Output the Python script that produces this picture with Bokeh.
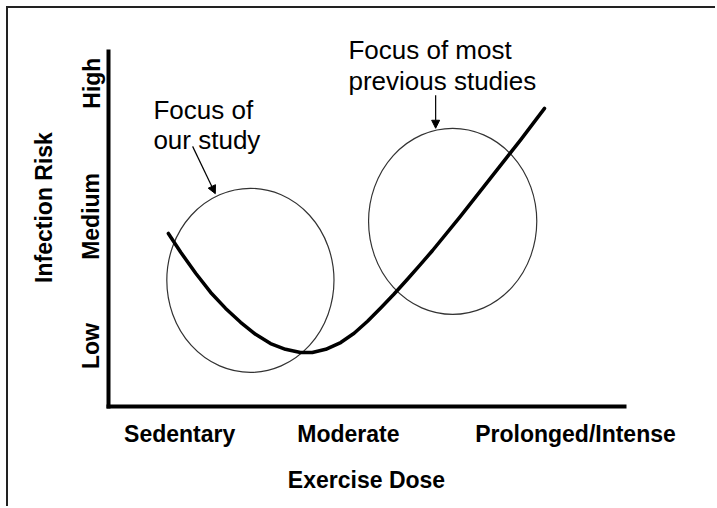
from bokeh.plotting import figure
from bokeh.models import Range1d, FixedTicker, Arrow, NormalHead, ColumnDataSource
from bokeh.core.properties import value
from bokeh.embed import file_html
from bokeh.resources import INLINE

# ---- data (data units: x 0..100 exercise dose, y 0..100 infection risk) ----
dose = [11.6, 14.0, 16.9, 19.8, 22.7, 25.6, 28.5, 31.4, 34.3, 37.2, 39.5,
        42.1, 45.0, 47.6, 50.2, 52.8, 55.3, 57.8, 60.3, 62.8, 68.2, 74.0, 79.8, 84.5]
risk = [48.7, 43.4, 37.5, 32.1, 27.6, 23.7, 20.3, 17.7, 16.1, 15.2, 15.2,
        16.1, 18.0, 20.6, 24.0, 27.8, 31.6, 35.6, 39.7, 43.9, 53.5, 64.2, 74.9, 83.9]

x_tick_pos = [13.8, 46.5, 90.5]
x_tick_labels = ["Sedentary", "Moderate", "Prolonged/Intense"]
y_tick_pos = [17.0, 53.5, 91.0]
y_tick_labels = ["Low", "Medium", "High"]

ellipse_x = [27.5, 66.7]
ellipse_y = [35.5, 52.1]
ellipse_w = [32.4, 32.6]
ellipse_h = [51.8, 52.4]

note_lines = ["Focus of", "our study", "Focus of most", "previous studies"]
note_x = [8.7, 8.7, 46.5, 46.5]
note_y = [83.4, 74.9, 100.3, 91.5]

arrow_x0 = [16.3, 63.4]
arrow_y0 = [73.2, 87.6]
arrow_x1 = [20.7, 63.4]
arrow_y1 = [59.9, 78.3]

FONT = "Liberation Sans"

p = figure(width=709, height=500, x_range=Range1d(0, 100), y_range=Range1d(0, 112),
           output_backend="svg", toolbar_location=None,
           min_border_left=100, min_border_right=93, min_border_top=0, min_border_bottom=102)
p.grid.visible = False
p.outline_line_color = None
p.background_fill_color = "white"
p.border_fill_color = "white"
p.styles = {"border-top": "2px solid #222", "border-left": "2px solid #222",
            "margin-top": "6px", "margin-left": "6px"}

for ax in (p.xaxis[0], p.yaxis[0]):
    ax.axis_line_width = 4
    ax.axis_line_color = "black"
    ax.axis_line_cap = "square"
    ax.major_tick_line_color = None
    ax.minor_tick_line_color = None
    ax.major_tick_out = 0
    ax.major_tick_in = 0
    ax.major_label_text_font = FONT
    ax.major_label_text_font_style = "bold"
    ax.major_label_text_font_size = "23px"
    ax.major_label_text_color = "black"
    ax.axis_label_text_font = FONT
    ax.axis_label_text_font_style = "bold"
    ax.axis_label_text_font_size = "23px"
    ax.axis_label_text_color = "black"

p.xaxis.ticker = FixedTicker(ticks=x_tick_pos)
p.xaxis.major_label_overrides = dict(zip(x_tick_pos, x_tick_labels))
p.xaxis.axis_label = "Exercise Dose"
p.xaxis.major_label_standoff = 14
p.xaxis.axis_label_standoff = 17
p.xaxis.bounds = (0, 100)

p.yaxis.ticker = FixedTicker(ticks=y_tick_pos)
p.yaxis.major_label_overrides = dict(zip(y_tick_pos, y_tick_labels))
p.yaxis.axis_label = "Infection Risk"
p.yaxis.major_label_orientation = "vertical"
p.yaxis.major_label_standoff = 4
p.yaxis.axis_label_standoff = 19
p.yaxis.bounds = (0, 100)

p.ellipse(x=ellipse_x, y=ellipse_y, width=ellipse_w, height=ellipse_h,
          fill_color=None, line_color="#333333", line_width=1.2)

p.line(dose, risk, line_width=3.5, line_color="black", line_join="round", line_cap="round")

src = ColumnDataSource(dict(x=note_x, y=note_y, text=note_lines))
p.text(x="x", y="y", text="text", source=src, text_font=value(FONT),
       text_font_size="26px", text_color="black", text_baseline="alphabetic", text_align="left")

for xs, ys, xe, ye in zip(arrow_x0, arrow_y0, arrow_x1, arrow_y1):
    p.add_layout(Arrow(end=NormalHead(size=8, fill_color="black", line_color="black", line_width=1),
                       x_start=xs, y_start=ys, x_end=xe, y_end=ye,
                       line_color="black", line_width=1.2))

open("out.html", "w").write(file_html(p, INLINE))
